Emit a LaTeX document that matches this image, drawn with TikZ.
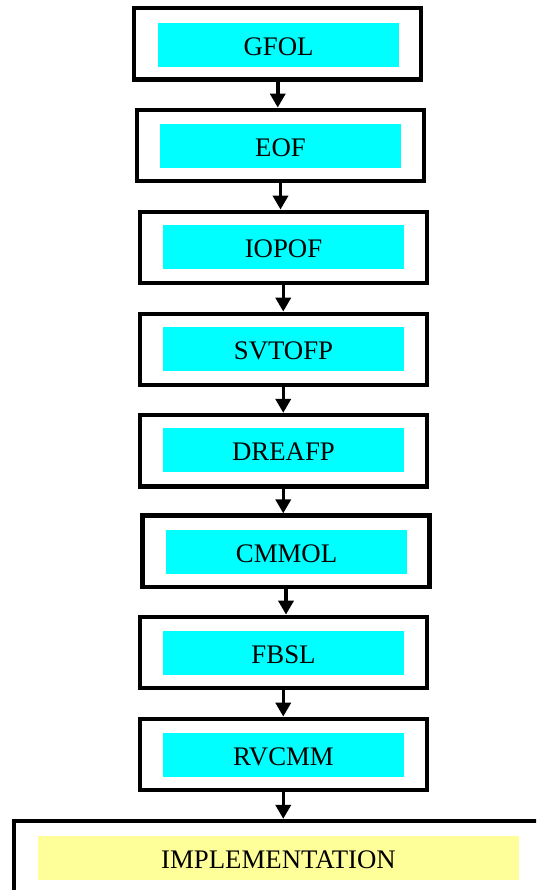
\documentclass[tikz,border=0pt]{standalone}
\usepackage{fontspec}
\setmainfont{Liberation Serif}
\usetikzlibrary{arrows.meta}
\definecolor{boxcyan}{HTML}{00FFFF}
\definecolor{boxyellow}{HTML}{FFFF99}
\tikzset{
  outerbox/.style={draw=black, line width=4.3pt, fill=white, minimum width=287pt, minimum height=71.5pt, inner sep=0pt},
  innerbox/.style={fill=boxcyan, minimum width=241pt, minimum height=44pt, inner sep=0pt, text height=21.5pt, text depth=0pt, font=\fontsize{26.8}{30}\selectfont},
  yellowbox/.style={innerbox, fill=boxyellow, minimum width=481pt},
  flow/.style={line width=3.5pt, -{Triangle[length=14pt, width=15pt]}}
}
\begin{document}
\begin{tikzpicture}[x=1pt, y=-1pt]
\clip (0,0) rectangle (536,890);
\fill[white] (0,0) rectangle (536,890);
% outer boxes
\node[outerbox] (b1) at (277.75,43.75) {};
\node[outerbox] (b2) at (280.5,145.5) {};
\node[outerbox] (b3) at (283.25,247.5) {};
\node[outerbox] (b4) at (283.25,349.5) {};
\node[outerbox] (b5) at (283.25,450.75) {};
\node[outerbox] (b6) at (286,551.25) {};
\node[outerbox] (b7) at (283.25,652.5) {};
\node[outerbox] (b8) at (283.25,754.5) {};
\node[outerbox, minimum width=560pt, minimum height=100pt] (b9) at (294,871) {};
% inner labels
\node[innerbox] (t1) at (278.5,45) {GFOL};
\node[innerbox] (t2) at (280.5,146) {EOF};
\node[innerbox] (t3) at (283.5,247) {IOPOF};
\node[innerbox] (t4) at (283.5,349) {SVTOFP};
\node[innerbox] (t5) at (283.5,450) {DREAFP};
\node[innerbox] (t6) at (286.5,552) {CMMOL};
\node[innerbox] (t7) at (283.5,653) {FBSL};
\node[innerbox] (t8) at (283.5,755) {RVCMM};
\node[yellowbox] (t9) at (278.5,858) {IMPLEMENTATION};
% connectors
\draw[flow] (b1.south) -- (b1.south |- b2.north);
\draw[flow] (b2.south) -- (b2.south |- b3.north);
\draw[flow] (b3.south) -- (b3.south |- b4.north);
\draw[flow] (b4.south) -- (b4.south |- b5.north);
\draw[flow] (b5.south) -- (b5.south |- b6.north);
\draw[flow] (b6.south) -- (b6.south |- b7.north);
\draw[flow] (b7.south) -- (b7.south |- b8.north);
\draw[flow] (b8.south) -- (b8.south |- b9.north);
\end{tikzpicture}
\end{document}
